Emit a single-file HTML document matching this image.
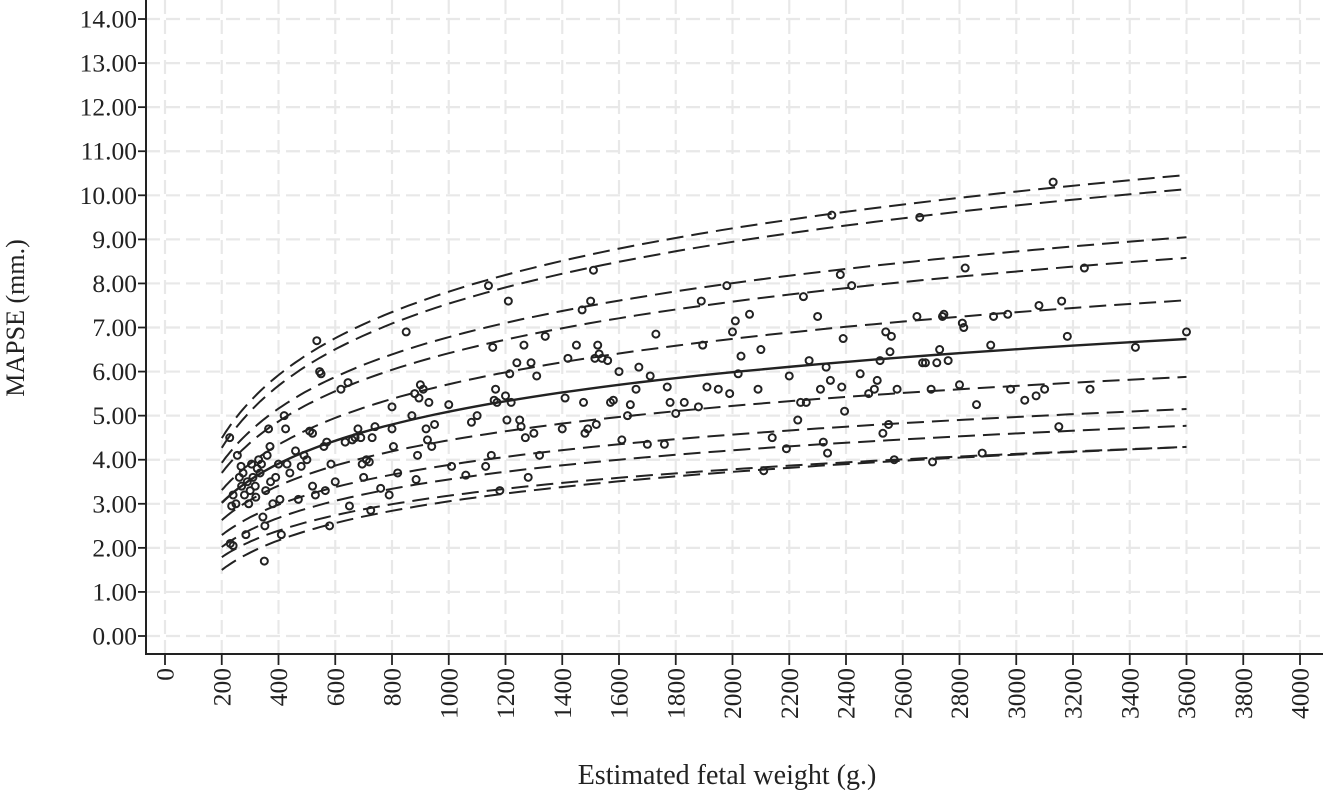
<!DOCTYPE html>
<html><head><meta charset="utf-8"><style>
html,body{margin:0;padding:0;background:#fff;}
svg{display:block;font-family:"Liberation Serif",serif;}
</style></head><body>
<svg id="chart" width="1323" height="790" viewBox="0 0 1323 790" xmlns="http://www.w3.org/2000/svg">
<g id="grid"></g>
<g id="curves"></g>
<g id="points"></g>
<g id="axes"></g>
<text x="0" y="0" transform="translate(24,318) rotate(-90)" text-anchor="middle" font-size="26" fill="#222">MAPSE (mm.)</text>
<text x="727" y="784" text-anchor="middle" font-size="28" fill="#222">Estimated fetal weight (g.)</text>
</svg>
<script>
const yTicks = [0,1,2,3,4,5,6,7,8,9,10,11,12,13,14];
const xTicks = [0,200,400,600,800,1000,1200,1400,1600,1800,2000,2200,2400,2600,2800,3000,3200,3400,3600,3800,4000];
const curveX = [200,400,800,1600,3600];
const c1 = [4.49,5.92,7.35,8.79,10.46];
const c2 = [4.27,5.68,7.09,8.49,10.14];
const c3 = [3.93,5.16,6.39,7.61,9.05];
const c4 = [3.70,4.87,6.04,7.21,8.58];
const c5 = [3.31,4.34,5.38,6.41,7.62];
const median = [3.02,3.91,4.80,5.70,6.74];
const c7 = [2.63,3.41,4.19,4.97,5.88];
const c8 = [2.29,2.98,3.66,4.35,5.15];
const c9 = [2.02,2.68,3.34,4.00,4.77];
const c10 = [1.79,2.39,2.99,3.59,4.29];
const c11 = [1.50,2.17,2.84,3.51,4.29];
const points = [[228,4.5],[240,3.2],[250,3.0],[235,2.95],[230,2.1],[240,2.05],[255,4.1],[262,3.6],[268,3.85],[270,3.4],[275,3.7],[280,3.2],[285,2.3],[290,3.5],[295,3.0],[300,3.3],[305,3.9],[310,3.6],[318,3.4],[320,3.15],[325,3.8],[330,4.0],[335,3.7],[340,3.9],[345,2.7],[350,1.7],[352,2.5],[355,3.3],[360,4.1],[365,4.7],[370,4.3],[372,3.5],[380,3.0],[390,3.6],[400,3.9],[405,3.1],[410,2.3],[420,5.0],[425,4.7],[430,3.9],[440,3.7],[460,4.2],[470,3.1],[480,3.85],[490,4.1],[500,4.0],[510,4.65],[520,4.6],[520,3.4],[530,3.2],[535,6.7],[545,6.0],[550,5.95],[560,4.3],[565,3.3],[570,4.4],[580,2.5],[585,3.9],[600,3.5],[620,5.6],[635,4.4],[645,5.75],[650,2.95],[660,4.45],[670,4.5],[680,4.7],[690,4.5],[695,3.9],[700,3.6],[710,4.0],[720,3.95],[725,2.85],[730,4.5],[740,4.75],[760,3.35],[790,3.2],[800,5.2],[800,4.7],[805,4.3],[820,3.7],[850,6.9],[870,5.0],[880,5.5],[885,3.55],[890,4.1],[895,5.4],[900,5.7],[910,5.6],[920,4.7],[925,4.45],[930,5.3],[940,4.3],[950,4.8],[1000,5.25],[1010,3.85],[1060,3.65],[1080,4.85],[1100,5.0],[1130,3.85],[1140,7.95],[1150,4.1],[1155,6.55],[1160,5.35],[1165,5.6],[1170,5.3],[1180,3.3],[1200,5.45],[1205,4.9],[1210,7.6],[1215,5.95],[1220,5.3],[1240,6.2],[1250,4.9],[1255,4.75],[1265,6.6],[1270,4.5],[1280,3.6],[1290,6.2],[1300,4.6],[1310,5.9],[1320,4.1],[1340,6.8],[1400,4.7],[1410,5.4],[1420,6.3],[1450,6.6],[1470,7.4],[1475,5.3],[1480,4.6],[1490,4.7],[1500,7.6],[1510,8.3],[1515,6.3],[1520,4.8],[1525,6.6],[1530,6.4],[1540,6.3],[1560,6.25],[1570,5.3],[1580,5.35],[1600,6.0],[1610,4.45],[1630,5.0],[1640,5.25],[1660,5.6],[1670,6.1],[1700,4.35],[1710,5.9],[1730,6.85],[1760,4.35],[1770,5.65],[1780,5.3],[1800,5.05],[1830,5.3],[1880,5.2],[1890,7.6],[1895,6.6],[1910,5.65],[1950,5.6],[1980,7.95],[1990,5.5],[2000,6.9],[2010,7.15],[2020,5.95],[2030,6.35],[2060,7.3],[2090,5.6],[2100,6.5],[2110,3.75],[2140,4.5],[2190,4.25],[2200,5.9],[2230,4.9],[2240,5.3],[2250,7.7],[2260,5.3],[2270,6.25],[2300,7.25],[2310,5.6],[2320,4.4],[2330,6.1],[2335,4.15],[2345,5.8],[2350,9.55],[2380,8.2],[2385,5.65],[2390,6.75],[2395,5.1],[2420,7.95],[2450,5.95],[2480,5.5],[2500,5.6],[2510,5.8],[2520,6.25],[2530,4.6],[2540,6.9],[2550,4.8],[2555,6.45],[2560,6.8],[2570,4.0],[2580,5.6],[2650,7.25],[2660,9.5],[2670,6.2],[2680,6.2],[2700,5.6],[2705,3.95],[2720,6.2],[2730,6.5],[2740,7.25],[2745,7.3],[2760,6.25],[2800,5.7],[2810,7.1],[2815,7.0],[2820,8.35],[2860,5.25],[2880,4.15],[2910,6.6],[2920,7.25],[2970,7.3],[2980,5.6],[3030,5.35],[3070,5.45],[3080,7.5],[3100,5.6],[3130,10.3],[3150,4.75],[3160,7.6],[3180,6.8],[3240,8.35],[3260,5.6],[3420,6.55],[3600,6.9]];

const NS = 'http://www.w3.org/2000/svg';
const X0 = 165, XS = 0.28375, Y0 = 636, YS = 44.07;
function sx(v){ return X0 + v*XS; }
function sy(v){ return Y0 - v*YS; }
function mk(tag, attrs, parent){
  const e = document.createElementNS(NS, tag);
  for (const k in attrs) e.setAttribute(k, attrs[k]);
  parent.appendChild(e);
  return e;
}
const grid = document.getElementById('grid');
const axes = document.getElementById('axes');
const AXL = 146, AXB = 654;
yTicks.forEach(t => {
  const g = mk('line', {x1:AXL, x2:1323, y1:sy(t), y2:sy(t), stroke:'#e8e8e8', 'stroke-width':2.2, 'stroke-dasharray':'14 6'}, grid);
  
  
  const tk = mk('line', {x1:AXL-8, x2:AXL, y1:sy(t), y2:sy(t), stroke:'#222', 'stroke-width':1.8}, axes);
  
  
  const lb = mk('text', {x:AXL-9, y:sy(t)+8.5, 'text-anchor':'end', 'font-size':25.5, fill:'#222'}, axes);
  lb.textContent = t.toFixed(2);
  
  
});
xTicks.forEach(t => {
  const g = mk('line', {x1:sx(t), x2:sx(t), y1:0, y2:AXB, stroke:'#e8e8e8', 'stroke-width':2.2, 'stroke-dasharray':'14 6'}, grid);
  
  
  const tk = mk('line', {x1:sx(t), x2:sx(t), y1:AXB, y2:AXB+11, stroke:'#222', 'stroke-width':1.8}, axes);
  
  
  const lb = mk('text', {x:0, y:0, transform:`translate(${sx(t)+8.5},${AXB+14}) rotate(-90)`, 'text-anchor':'end', 'font-size':25.5, fill:'#222'}, axes);
  lb.textContent = String(t);
  
  
});
const yl = mk('line', {x1:AXL, x2:AXL, y1:0, y2:AXB+1, stroke:'#222', 'stroke-width':2}, axes);


const xl = mk('line', {x1:AXL-1, x2:1323, y1:AXB, y2:AXB, stroke:'#222', 'stroke-width':2}, axes);



function curvePath(vals){
  let d = '';
  for (let i = 0; i < curveX.length - 1; i++){
    const la = Math.log(curveX[i]), lb = Math.log(curveX[i+1]);
    for (let s = 0; s <= 20; s++){
      if (i > 0 && s === 0) continue;
      const f = s/20;
      const x = Math.exp(la + (lb-la)*f);
      const y = vals[i] + (vals[i+1]-vals[i])*f;
      d += (d ? 'L' : 'M') + sx(x).toFixed(1) + ',' + sy(y).toFixed(1);
    }
  }
  return d;
}
const curvesG = document.getElementById('curves');
const dashed = [c1,c2,c3,c4,c5,c7,c8,c9,c10,c11];
dashed.forEach(c => {
  const p = mk('path', {d:curvePath(c), fill:'none', stroke:'#222', 'stroke-width':2, 'stroke-dasharray':'17 8'}, curvesG);
  
  
});
const mp = mk('path', {d:curvePath(median), fill:'none', stroke:'#222', 'stroke-width':2.4}, curvesG);



const ptsG = document.getElementById('points');
points.forEach(p => {
  const c = mk('circle', {cx:sx(p[0]), cy:sy(p[1]), r:3.5, fill:'none', stroke:'#222', 'stroke-width':2}, ptsG);
  
  
});
</script>
</body></html>
